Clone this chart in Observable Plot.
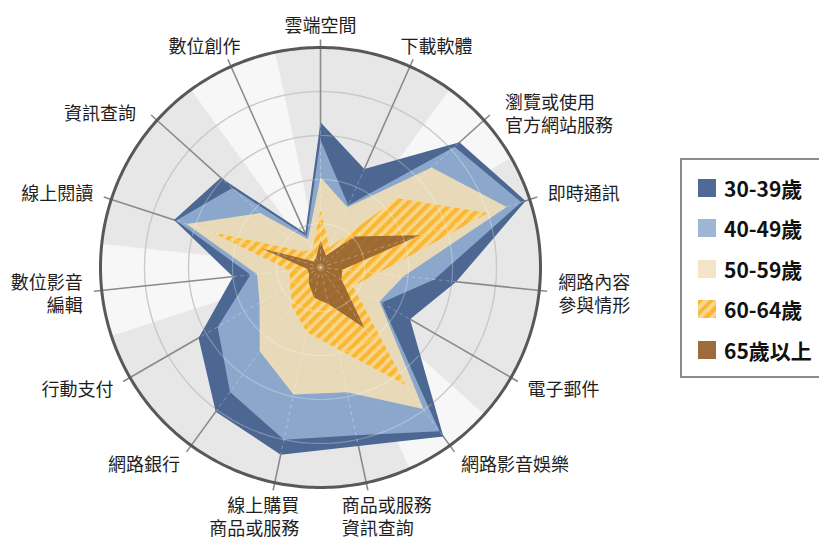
<!DOCTYPE html>
<html>
<head>
<meta charset="utf-8">
<script src="https://cdn.jsdelivr.net/npm/d3@7"></script>
<script src="https://cdn.jsdelivr.net/npm/@observablehq/plot@0.6"></script>
<style>
  html, body { margin: 0; padding: 0; background: #fff; }
  #wrap { position: relative; width: 819px; height: 541px; overflow: hidden; font-family: "Noto Sans CJK TC", "Noto Sans", sans-serif; }
  #chart { position: absolute; left: 0; top: 0; }
  #legend { position: absolute; left: 680px; top: 158px; width: 170px; height: 220px; border: 2px solid #8c8c8c; box-sizing: border-box; background: #fff; }
  .item { position: absolute; left: 16px; height: 24px; display: flex; align-items: center; font-weight: 700; font-size: 21px; color: #111; white-space: nowrap; }
  .sw { width: 18px; height: 18px; margin-right: 8px; flex: none; }
</style>
</head>
<body>
<div id="wrap"><div id="chart"></div><div id="legend"></div></div>
<script>
// ---------- data ----------
const categories = ["雲端空間", "下載軟體", "瀏覽或使用\n官方網站服務", "即時通訊", "網路內容\n參與情形", "電子郵件", "網路影音娛樂", "商品或服務\n資訊查詢", "線上購買\n商品或服務", "網路銀行", "行動支付", "數位影音\n編輯", "線上閱讀", "資訊查詢", "數位創作"];
const seriesNames = ["30-39歲", "40-49歲", "50-59歲", "60-64歲", "65歲以上"];
const age3039 = [66, 49, 85, 98, 62, 47, 95, 83, 87, 81, 64, 40, 70, 61, 17];
const age4049 = [58, 31, 82, 96, 52, 32, 92, 78, 80, 70, 54, 32, 69, 54, 15.5];
const age5059 = [41, 30, 68, 89, 38, 31, 79.5, 58, 59, 47, 32, 29, 64, 37, 14];
const age6064 = [26, 10, 47, 80, 26, 17, 66, 38, 30, 22, 16, 14, 52, 11, 9];
const age65up = [12, 6, 21, 47.5, 10, 11, 34, 17, 14, 9, 6, 6, 28.5, 4, 5];
const ringTicks = [20, 40, 60, 80, 100];

// ---------- styling ----------
const polyFills = ["#4c6792", "#8ba8cc", "#e8dab9", "url(#hatch6064)", "#93602e"];
const swatchFills = ["#4f6a94", "#9db6d6", "#f3e5c5",
  "repeating-linear-gradient(135deg, #fbb731 0 4px, #f7d68c 4px 8px)", "#9e6b3d"];
const bandShade = [1, 1, 0, 1, 1, 1, 0, 1, 1, 1, 1, 0, 1, 1, 0]; // background wedge tone per axis
const W = 819, H = 541, CX = 320, CY = 267, K = 2.2; // px per value unit
const FONT = 18, LINE_H = 1.28;

// ---------- helpers ----------
const n = categories.length;
const ang = i => 2 * Math.PI * i / n;
const px = (v, a) => v * Math.sin(a);
const py = (v, a) => -v * Math.cos(a);
const toRad = d => d * Math.PI / 180;

const seriesValues = [age3039, age4049, age5059, age6064, age65up];
const polyRows = seriesValues.flatMap((vals, s) => vals.map((v, i) => ({s, i, v})));

// radius of the outermost polygon along any angle (keeps the overlay grid inside it)
function outerR(phi) {
  const step = 2 * Math.PI / n;
  const p = ((phi % (2 * Math.PI)) + 2 * Math.PI) % (2 * Math.PI);
  const i = Math.floor(p / step) % n, j = (i + 1) % n;
  const A = [px(age3039[i], ang(i)), py(age3039[i], ang(i))];
  const B = [px(age3039[j], ang(j)), py(age3039[j], ang(j))];
  const E = [B[0] - A[0], B[1] - A[1]];
  const d = [Math.sin(p), -Math.cos(p)];
  const cr = (a, b) => a[0] * b[1] - a[1] * b[0];
  return cr(A, E) / cr(d, E);
}

// background wedges
const halfStep = 180 / n;
const wedgeRows = [];
for (let i = 0; i < n; i++) {
  const c = 360 * i / n;
  wedgeRows.push({i, r: 0, deg: c});
  for (let d = c - halfStep; d <= c + halfStep + 1e-9; d += 0.5) wedgeRows.push({i, r: 100, deg: d});
}
const ringRows = ringTicks.flatMap(r => d3.range(0, 360, 1).map(deg => ({r, deg})));
const axisRows = categories.map((c, i) => ({i}));

// label placement rule (by angle)
const labelRx = 239 / K, labelRy = 243 / K;
const labelRows = categories.map((text, i) => {
  const a = ang(i), s = Math.sin(a), c = Math.cos(a), as = Math.abs(s);
  const lines = text.split("\n");
  const w = Math.max(...lines.map(l => l.length)) * FONT;
  const anchor = as < 0.05 ? "middle" : s > 0 ? "start" : "end";
  let shift = (as >= 0.05 && as < 0.5) ? -Math.sign(s) * 0.4 * (1 - as) * w : 0;
  let dy = c < -0.5 ? ((lines.length - 1) * FONT * LINE_H / 2) * (-c) : 0;
  if (c > 0) {
    const bump = Math.max(0, 1 - Math.abs(as - 0.74) / 0.2);
    shift += Math.sign(s) * 7 * bump;
    dy += 8 * bump;
  }
  return {text, anchor, x: labelRx * s + shift / K, y: -labelRy * c + dy / K};
});

const polyMark = s => Plot.line(polyRows.filter(d => d.s === s), {
  x: d => px(d.v, ang(d.i)), y: d => py(d.v, ang(d.i)),
  fill: polyFills[s], fillOpacity: s === 4 ? 0.9 : 1, stroke: "none", curve: "linear-closed"
});

const textMark = anchor => Plot.text(labelRows.filter(d => d.anchor === anchor), {
  x: "x", y: "y", text: "text", textAnchor: anchor, lineAnchor: "middle",
  fontSize: FONT, lineHeight: LINE_H, fill: "#1e1e1e"
});

const chart = Plot.plot({
  width: W, height: H, margin: 0,
  style: {fontFamily: '"Noto Sans CJK TC", "Noto Sans", sans-serif', background: "transparent", overflow: "visible"},
  x: {domain: [-CX / K, (W - CX) / K], range: [0, W], axis: null},
  y: {domain: [-CY / K, (H - CY) / K], range: [0, H], axis: null},
  marks: [
    // background wedges
    Plot.line(wedgeRows.filter(d => bandShade[d.i] === 1), {
      x: d => px(d.r, toRad(d.deg)), y: d => py(d.r, toRad(d.deg)), z: "i",
      fill: "#e7e7e7", stroke: "#e7e7e7", strokeWidth: 0.6, curve: "linear-closed"
    }),
    Plot.line(wedgeRows.filter(d => bandShade[d.i] === 0), {
      x: d => px(d.r, toRad(d.deg)), y: d => py(d.r, toRad(d.deg)), z: "i",
      fill: "#f7f7f7", stroke: "#f7f7f7", strokeWidth: 0.6, curve: "linear-closed"
    }),
    // grid rings
    Plot.line(ringRows.filter(d => d.r < 100), {
      x: d => px(d.r, toRad(d.deg)), y: d => py(d.r, toRad(d.deg)), z: "r",
      stroke: "#c9c9c9", strokeWidth: 1.4, curve: "linear-closed"
    }),
    // axis spokes
    Plot.link(axisRows, {
      x1: 0, y1: 0, x2: d => px(103.6, ang(d.i)), y2: d => py(103.6, ang(d.i)),
      stroke: "#8a8a8a", strokeWidth: 1.6
    }),
    // series polygons
    polyMark(0), polyMark(1), polyMark(2), polyMark(3), polyMark(4),
    // faint grid over the polygons
    Plot.line(ringRows.filter(d => d.r < 100), {
      x: d => px(d.r, toRad(d.deg)),
      y: d => d.r <= outerR(toRad(d.deg)) ? py(d.r, toRad(d.deg)) : NaN, z: "r",
      stroke: "#ffffff", strokeOpacity: 0.28, strokeWidth: 1.2
    }),
    Plot.link(axisRows, {
      x1: 0, y1: 0, x2: d => px(age3039[d.i], ang(d.i)), y2: d => py(age3039[d.i], ang(d.i)),
      stroke: "#ffffff", strokeOpacity: 0.28, strokeWidth: 1, strokeDasharray: "4,3"
    }),
    // outer circle
    Plot.line(ringRows.filter(d => d.r === 100), {
      x: d => px(d.r, toRad(d.deg)), y: d => py(d.r, toRad(d.deg)),
      stroke: "#585858", strokeWidth: 3, curve: "linear-closed"
    }),
    // category labels
    textMark("start"), textMark("end"), textMark("middle")
  ]
});

// hatch pattern for 60-64
const ns = "http://www.w3.org/2000/svg";
const defs = document.createElementNS(ns, "defs");
defs.innerHTML = '<pattern id="hatch6064" patternUnits="userSpaceOnUse" width="7.8" height="7.8" patternTransform="rotate(45)">' +
  '<rect width="7.8" height="7.8" fill="#f7d68c"></rect><rect width="4.2" height="7.8" fill="#fbb731"></rect></pattern>';
chart.insertBefore(defs, chart.firstChild);
document.getElementById("chart").appendChild(chart);

// legend
const legend = document.getElementById("legend");
seriesNames.forEach((name, i) => {
  const item = document.createElement("div");
  item.className = "item";
  item.style.top = (187.5 + 40.5 * i - 158 - 2 - 12) + "px";
  const sw = document.createElement("span");
  sw.className = "sw";
  sw.style.background = swatchFills[i];
  const tx = document.createElement("span");
  tx.textContent = name;
  item.appendChild(sw); item.appendChild(tx);
  legend.appendChild(item);
});
</script>
</body>
</html>
